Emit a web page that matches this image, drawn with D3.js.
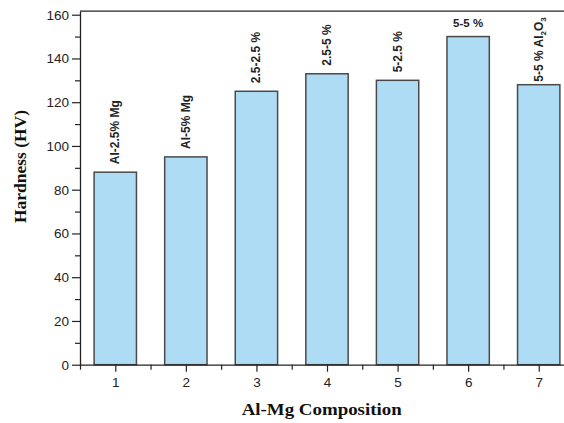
<!DOCTYPE html>
<html><head><meta charset="utf-8">
<script src="https://cdn.jsdelivr.net/npm/d3@7"></script>
<style>body{margin:0;background:#fff}svg{display:block}</style>
</head><body>
<svg id="c" width="564" height="423"></svg>
<script>
const categories = [1, 2, 3, 4, 5, 6, 7];
const hardness = [88, 95, 125, 133, 130, 150, 128];
const barLabels = ["Al-2.5% Mg", "Al-5% Mg", "2.5-2.5 %", "2.5-5 %", "5-2.5 %", "5-5 %", "5-5 % Al2O3"];
const yTicks = [0, 20, 40, 60, 80, 100, 120, 140, 160];
const yMinor = [10, 30, 50, 70, 90, 110, 130, 150];
const xMinor = [0.5, 1.5, 2.5, 3.5, 4.5, 5.5, 6.5];

const svg = d3.select("#c");
const x = d3.scaleLinear().domain([0.5, 7.5]).range([80, 574]);
const y = d3.scaleLinear().domain([0, 161.6]).range([364.7, 11.2]);
const barW = (x(1) - x(0)) * 0.6;

// frame top line
svg.append("line").attr("x1", x(0.5)).attr("x2", x(7.5)).attr("y1", y(161.6)).attr("y2", y(161.6))
  .attr("stroke", "#222").attr("stroke-width", 1.3);

// bars
svg.selectAll("rect.bar").data(categories).join("rect").attr("class", "bar")
  .attr("x", (d) => x(d) - barW / 2).attr("width", barW)
  .attr("y", (d, i) => y(hardness[i])).attr("height", (d, i) => y(0) - y(hardness[i]))
  .attr("fill", "#aedcf4").attr("stroke", "#4a4a4a").attr("stroke-width", 1.5);

// y axis
const yAxis = d3.axisLeft(y).tickValues(yTicks).tickSize(8).tickPadding(3).tickSizeOuter(0);
const gy = svg.append("g").attr("transform", "translate(80,0)").call(yAxis);
gy.select(".domain").attr("stroke", "#222").attr("stroke-width", 1.3);
gy.selectAll(".tick line").attr("stroke", "#222").attr("stroke-width", 1.2);
gy.selectAll(".tick text").attr("font-family", "Arial, 'Liberation Sans', sans-serif").attr("font-size", 13.5).attr("fill", "#222");
const gym = svg.append("g").attr("transform", "translate(80,0)")
  .call(d3.axisLeft(y).tickValues(yMinor).tickSize(5).tickFormat("").tickSizeOuter(0));
gym.select(".domain").remove();
gym.selectAll(".tick line").attr("stroke", "#222").attr("stroke-width", 1.2);

// x axis
const xAxis = d3.axisBottom(x).tickValues(categories).tickSize(7).tickPadding(6).tickSizeOuter(0).tickFormat(d3.format("d"));
const gx = svg.append("g").attr("transform", `translate(0,${y(0)})`).call(xAxis);
gx.select(".domain").attr("stroke", "#222").attr("stroke-width", 1.3);
gx.selectAll(".tick line").attr("stroke", "#222").attr("stroke-width", 1.2);
gx.selectAll(".tick text").attr("font-family", "Arial, 'Liberation Sans', sans-serif").attr("font-size", 13.5).attr("fill", "#222");
const gxm = svg.append("g").attr("transform", `translate(0,${y(0)})`)
  .call(d3.axisBottom(x).tickValues(xMinor).tickSize(5).tickFormat("").tickSizeOuter(0));
gxm.select(".domain").remove();
gxm.selectAll(".tick line").attr("stroke", "#222").attr("stroke-width", 1.2);

// bar labels
const lf = "Arial, 'Liberation Sans', sans-serif";
categories.forEach((c, i) => {
  const lab = barLabels[i];
  if (c === 6) {
    svg.append("text").attr("x", x(c)).attr("y", y(hardness[i]) - 10)
      .attr("text-anchor", "middle").attr("font-family", lf).attr("font-weight", "bold")
      .attr("font-size", 11.5).attr("fill", "#222").text(lab);
    return;
  }
  const gap = c === 7 ? 3 : 8;
  const t = svg.append("text").attr("transform", `translate(${x(c) + 4},${y(hardness[i]) - gap}) rotate(-90)`)
    .attr("font-family", lf).attr("font-weight", "bold").attr("font-size", 12).attr("fill", "#222");
  if (c === 7) {
    t.append("tspan").text("5-5 % Al");
    t.append("tspan").attr("font-size", 8).attr("dy", 3).text("2");
    t.append("tspan").attr("dy", -3).text("O");
    t.append("tspan").attr("font-size", 8).attr("dy", 3).text("3");
  } else {
    t.text(lab);
  }
});

// axis titles
svg.append("text").attr("transform", `translate(25.5,166.5) rotate(-90)`).attr("text-anchor", "middle")
  .attr("font-family", "'Times New Roman', 'Liberation Serif', serif").attr("font-weight", "bold")
  .attr("font-size", 17).attr("textLength", 113).attr("lengthAdjust", "spacingAndGlyphs")
  .attr("fill", "#111").text("Hardness (HV)");
svg.append("text").attr("x", 321.7).attr("y", 415).attr("text-anchor", "middle")
  .attr("font-family", "'Times New Roman', 'Liberation Serif', serif").attr("font-weight", "bold")
  .attr("font-size", 16).attr("textLength", 160).attr("lengthAdjust", "spacingAndGlyphs")
  .attr("fill", "#111").text("Al-Mg Composition");
</script>
</body></html>
